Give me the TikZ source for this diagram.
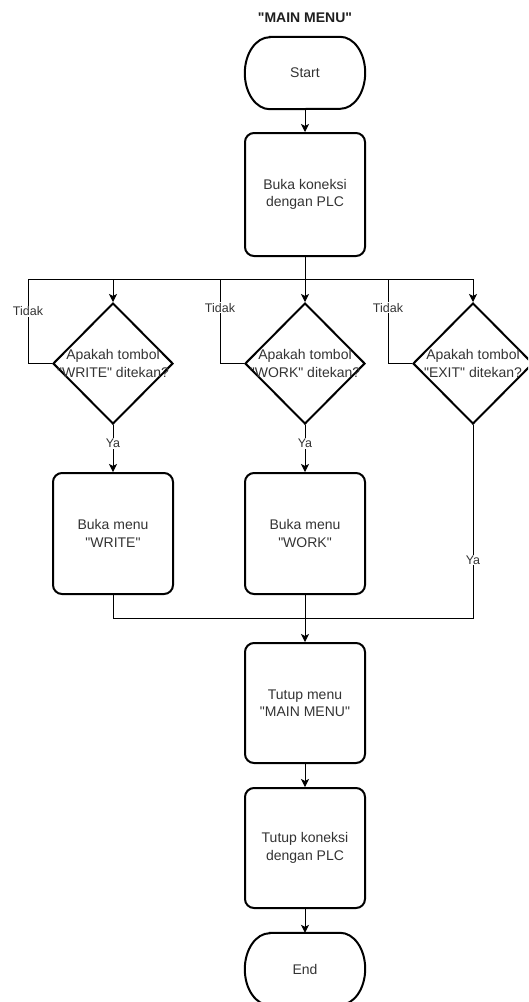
\documentclass[tikz,border=0pt]{standalone}
\usepackage{fontspec}
% plain family: no TeX ligature mapping, so " stays a straight quote
\newfontfamily\uifont{Liberation Sans}
\usetikzlibrary{arrows.meta,shapes.geometric}
\definecolor{txt}{RGB}{51,51,51}
\tikzset{
  base/.style={text=txt, font=\uifont\fontsize{14pt}{17.5pt}\selectfont, align=center, inner sep=0pt},
  stepbox/.style={base, draw=black, line width=2pt, rounded corners=9pt,
    minimum width=120pt, minimum height=121pt},
  terminal/.style={base, minimum width=120pt, minimum height=72pt},
  decision/.style={diamond, draw=black, line width=2pt, aspect=1, inner sep=0pt,
    minimum width=120pt, minimum height=121pt},
  shapeline/.style={draw=black, line width=2pt},
  conn/.style={draw=black, line width=1pt},
  arr/.style={conn, -{Stealth[length=8pt,width=8pt,inset=2pt]}},
  lbl/.style={text=txt, font=\uifont\fontsize{12.5pt}{14pt}\selectfont, fill=white, inner sep=1pt},
}
\begin{document}
\begin{tikzpicture}[x=1pt,y=-1pt]
\useasboundingbox (0,0) rectangle (528,1002);
\clip (0,0) rectangle (528,1002);

% title
\node[font=\uifont\bfseries\fontsize{14pt}{17pt}\selectfont, text={rgb,255:red,30;green,30;blue,30}] (title) at (305,18) {"MAIN MENU"};

% start / end terminals
\node[terminal] (start) at (305,73) {Start};
\node[terminal] (end) at (305,969) {End};
\foreach \t in {start,end}{
  \draw[shapeline] ([xshift=25pt]\t.north west) -- ([xshift=-25pt]\t.north east)
    arc[start angle=90,end angle=-90,x radius=25pt,y radius=36pt]
    -- ([xshift=25pt]\t.south west)
    arc[start angle=270,end angle=90,x radius=25pt,y radius=36pt] -- cycle;
}

% process boxes
\node[stepbox, minimum height=123pt] (open) at (305,194.5) {Buka koneksi\\dengan PLC};
\node[stepbox] (bw) at (113,533.5) {Buka menu\\"WRITE"};
\node[stepbox] (bk) at (305,533.5) {Buka menu\\"WORK"};
\node[stepbox, minimum height=120pt] (cm) at (305,703) {Tutup menu\\"MAIN MENU"};
\node[stepbox, minimum height=120pt] (cc) at (305,848) {Tutup koneksi\\dengan PLC};

% decisions
\node[decision] (dw) at (113,363.5) {};
\node[decision] (dk) at (305,363.5) {};
\node[decision] (de) at (473,363.5) {};
\node[base] (dwt) at (dw.center) {Apakah tombol\\"WRITE" ditekan?};
\node[base] (dkt) at (dk.center) {Apakah tombol\\"WORK" ditekan?};
\node[base] (det) at (de.center) {Apakah tombol\\"EXIT" ditekan?};

% junction points
\coordinate (bus) at (305,279);
\coordinate (lw) at (28,279);
\coordinate (lk) at (220,279);
\coordinate (le) at (388,279);
\coordinate (mg) at (305,618);

% main flow
\draw[arr] (start.south) -- (open.north);
\draw[conn] (open.south) -- (bus);
\draw[arr] (bus) -| (dw.north);
\draw[arr] (bus) -- (dk.north);
\draw[arr] (bus) -| (de.north);

% "Tidak" loops back to the bus
\draw[conn] (dw.west) -| (lw) node[lbl, pos=0.81] {Tidak} -- (bus);
\draw[conn] (dk.west) -| (lk) node[lbl, pos=0.83] {Tidak} -- (bus);
\draw[conn] (de.west) -| (le) node[lbl, pos=0.83] {Tidak} -- (bus);

% "Ya" branches
\draw[arr] (dw.south) -- (bw.north) node[lbl, pos=0.39] {Ya};
\draw[arr] (dk.south) -- (bk.north) node[lbl, pos=0.39] {Ya};
\draw[conn] (de.south) |- (mg) node[lbl, pos=0.35] {Ya};
\draw[conn] (bw.south) |- (mg);
\draw[arr] (bk.south) -- (cm.north);
\draw[arr] (cm.south) -- (cc.north);
\draw[arr] (cc.south) -- (end.north);
\end{tikzpicture}
\end{document}
